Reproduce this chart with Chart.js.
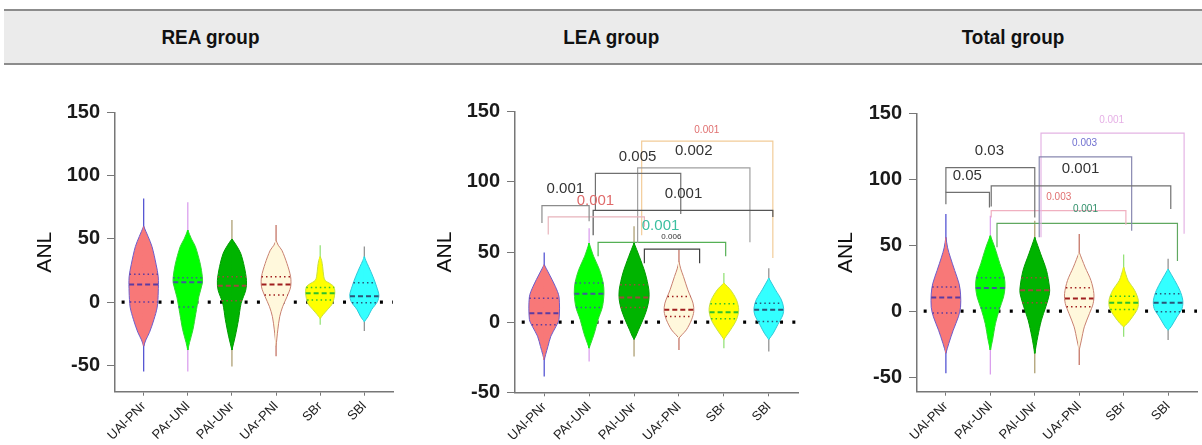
<!DOCTYPE html>
<html>
<head>
<meta charset="utf-8">
<script src="https://cdn.jsdelivr.net/npm/chart.js@4.4.0/dist/chart.umd.min.js"></script>
<style>
  body { margin: 0; background: #fff; width: 1202px; height: 445px; overflow: hidden; position: relative; }
  .band { position: absolute; left: 4px; right: 0; top: 9px; height: 52px; background: #ebebeb;
          border-top: 2px solid #8c8c8c; border-bottom: 2px solid #8c8c8c; }
  .band div { position: absolute; top: 0; width: 400px; height: 52px; text-align: center;
              font: bold 21px "Liberation Sans", Arial, sans-serif; line-height: 52px; color: #111; }
  .band span { display: inline-block; transform: scaleX(0.9); }
  .panel { position: absolute; top: 90px; height: 355px; }
</style>
</head>
<body>
<div class="band">
  <div style="left:6px"><span>REA group</span></div>
  <div style="left:407px"><span>LEA group</span></div>
  <div style="left:809px"><span>Total group</span></div>
</div>
<div class="panel" style="left:0;width:400px"><canvas id="rea" width="400" height="355"></canvas></div>
<div class="panel" style="left:400px;width:400px"><canvas id="lea" width="400" height="355"></canvas></div>
<div class="panel" style="left:800px;width:402px"><canvas id="tot" width="402" height="355"></canvas></div>

<script>
// categories and axis ticks
const categories = ['UAl-PNr', 'PAr-UNl', 'PAl-UNr', 'UAr-PNl', 'SBr', 'SBl'];
const yTicks = [-50, 0, 50, 100, 150];

// REA group: whisker range, quartiles, density profile [value, relative width]
const reaMin = [-55, -55, -51, -43, -18, -23];
const reaMax = [82, 79, 65, 61, 45, 44];
const reaQ1 = [0, -4, 1, 5.5, 1.6, -0.5];
const reaMedian = [14, 15.7, 13, 14, 6.9, 4.7];
const reaQ3 = [22, 19.3, 20, 20, 11.6, 15.3];
const reaDensity = [
  [[-35, 0], [-30, 0.15], [-24, 0.4], [-14, 0.7], [-4, 0.93], [8, 1], [20, 1], [30, 0.85], [44, 0.57], [52, 0.3], [60, 0]],
  [[-38, 0], [-32, 0.12], [-22, 0.35], [-9, 0.55], [4, 0.75], [15, 1], [20, 1], [30, 0.86], [44, 0.52], [50, 0.25], [57, 0]],
  [[-38, 0], [-27, 0.23], [-14, 0.45], [-1, 0.63], [9.5, 0.95], [17, 1], [28, 0.85], [38.6, 0.6], [45, 0.3], [50, 0]],
  [[-35, 0], [-22, 0.12], [-11.6, 0.25], [-3.7, 0.45], [4.2, 0.75], [12, 1], [20, 1], [30.5, 0.75], [41, 0.4], [45, 0.15], [49, 0]],
  [[-13, 0], [-10, 0.2], [-6, 0.5], [-1, 0.85], [6.8, 1], [12, 0.95], [14.5, 0.7], [17, 0.35], [20, 0.25], [28, 0.17], [33, 0.1], [36, 0]],
  [[-15.5, 0], [-11.6, 0.25], [-6, 0.5], [0.3, 0.9], [5.5, 1], [12, 0.85], [20, 0.6], [28, 0.3], [33, 0.1], [36, 0]]
];

// LEA group
const leaMin = [-38.8, -28, -24.5, -19.8, -18.6, -21];
const leaMax = [49.7, 67, 68.3, 51.6, 35, 38.5];
const leaQ1 = [-1.9, 10.5, 10.5, 4, 2.4, 0.5];
const leaMedian = [6.4, 20.2, 17.6, 8.8, 7.1, 8.8];
const leaQ3 = [17.1, 27.9, 26.7, 18.3, 13.1, 13.5];
const leaDensity = [
  [[-27, 0], [-23, 0.1], [-17.4, 0.25], [-10, 0.45], [-3, 0.8], [2, 1], [18, 1], [25.5, 0.75], [35, 0.3], [41, 0]],
  [[-18.6, 0], [-15, 0.12], [-8, 0.35], [1.7, 0.6], [11, 0.9], [20.7, 1], [27.9, 0.95], [37.4, 0.7], [47, 0.3], [56.4, 0]],
  [[-12.3, 0], [-10, 0.12], [-5.5, 0.3], [1.7, 0.6], [8.8, 0.85], [16, 1], [23, 1], [35, 0.75], [47, 0.35], [56.4, 0]],
  [[-11.4, 0], [-9, 0.2], [-5.5, 0.5], [1.7, 0.85], [7.6, 1], [13.5, 0.95], [23, 0.6], [32.6, 0.3], [38, 0.12], [43.3, 0]],
  [[-12.3, 0], [-10, 0.15], [-5.5, 0.45], [1.7, 0.85], [8.8, 1], [15.9, 0.85], [23, 0.45], [27.9, 0]],
  [[-12.3, 0], [-7.9, 0.3], [-1.9, 0.6], [5.2, 0.95], [10, 1], [15.9, 0.85], [23, 0.45], [31.4, 0]]
];
// comparison brackets: [from, to, top, left end, right end] and their p values
const leaBrackets = [
  [-0.05, 1.0, 83, 70.7, 72],
  [0.09, 2.23, 75, 62.4, 68],
  [1.09, 5.09, 79.7, 62, 75],
  [1.14, 3.04, 106, 80, 77],
  [2.08, 4.58, 110, 56.4, 56.9],
  [2.17, 5.09, 129, 62, 45.7],
  [1.2, 4.04, 56.9, 46.9, 47],
  [2.23, 3.46, 52, 42, 42]
];
const leaPValues = ['0.001', '0.001', '0.001', '0.005', '0.002', '0.001', '0.001', '0.006'];
const leaPAt = [[0.47, 95], [1.14, 86.6], [3.1, 91.6], [2.08, 118], [3.33, 122], [3.62, 137], [2.59, 68.8], [2.83, 61]];

// Total group
const totMin = [-47, -48, -47, -40.7, -19.4, -21.9];
const totMax = [73.6, 72.4, 68.6, 58.6, 43, 39.7];
const totQ1 = [-1.3, 2.5, 6.5, 3.3, 1.3, -0.5];
const totMedian = [10.3, 17.6, 15.9, 9.6, 6.5, 6.5];
const totQ3 = [18.4, 25.4, 25.4, 17.8, 11.3, 13.3];
const totDensity = [
  [[-31.9, 0], [-24.4, 0.2], [-14.4, 0.5], [-4.3, 0.85], [3, 1], [13, 1], [20.8, 0.9], [30.9, 0.6], [41, 0.3], [48, 0.12], [56, 0]],
  [[-29.4, 0], [-21.9, 0.15], [-9.3, 0.35], [0.8, 0.6], [10.8, 0.9], [18.4, 1], [25.9, 0.95], [36, 0.65], [48.5, 0.3], [57.3, 0]],
  [[-32, 0], [-19.4, 0.2], [-6.8, 0.45], [3.3, 0.75], [13.3, 1], [18.4, 1], [30.9, 0.8], [43.5, 0.4], [56, 0]],
  [[-29.4, 0], [-21.9, 0.15], [-11.8, 0.35], [-1.7, 0.7], [5.8, 0.95], [13.3, 1], [23.3, 0.8], [33.4, 0.4], [44.7, 0]],
  [[-11.8, 0], [-9.3, 0.25], [-4.3, 0.6], [2, 0.95], [8.3, 1], [15.8, 0.75], [23.3, 0.3], [28, 0.15], [33.4, 0]],
  [[-14.4, 0], [-11.8, 0.2], [-4.3, 0.6], [2, 0.95], [8.3, 1], [15.8, 0.8], [23.3, 0.45], [32, 0]]
];
const totBrackets = [
  [0, 0.98, 90, 81, 78.7],
  [0, 2.0, 108.8, 90, 71],
  [1.02, 5.06, 95, 79.4, 77.4],
  [2.1, 4.18, 117, 56, 61],
  [2.14, 5.36, 135, 56, 58.8],
  [1.02, 4.05, 76.2, 71, 65.6],
  [1.15, 5.21, 66.6, 48.5, 38]
];
const totPValues = ['0.05', '0.03', '0.001', '0.003', '0.001', '0.003', '0.001'];
const totPAt = [[0.48, 102.6], [0.98, 121.4], [3.03, 107.6], [3.12, 127], [3.73, 144.8], [2.54, 86], [3.14, 77.5]];

// styles
const fillColors = ['#f87878', '#00ff00', '#00b400', '#fff8dc', '#ffff00', '#33ffff'];
const edgeColors = ['#6c5ccc', '#30d830', '#009a00', '#c88070', '#c8e040', '#30c8d8'];
const whiskerColors = ['#4848d0', '#d898ec', '#a89868', '#c06a5a', '#8ee070', '#8a8a8a'];
const quartColors = ['#5b3aa0', '#405a9a', '#9b4b3a', '#a01e1e', '#2ec02e', '#2b5578'];
const leaBracketColors = ['#8c8c8c', '#e8b4bc', '#555555', '#707070', '#a0a0a0', '#f2cc98', '#55b055', '#404040'];
const leaTextColors = ['#333', '#e06a6a', '#333', '#333', '#333', '#e07070', '#3cbfa0', '#333'];
const leaTextSizes = [15, 15, 15, 15, 15, 10, 15, 8];
const totBracketColors = ['#707070', '#707070', '#707070', '#8888b0', '#e4b4e4', '#f0b0c0', '#60a860'];
const totTextColors = ['#333', '#333', '#333', '#7070d0', '#e6b0e6', '#e07070', '#30906a'];
const totTextSizes = [15, 15, 15, 10, 10, 10, 10];

const HALF = 0.33;
const FONT = '"Liberation Sans", Arial, sans-serif';

function densityAt(shape, v) {
  for (let k = 1; k < shape.length; k++) {
    const [v0, d0] = shape[k - 1], [v1, d1] = shape[k];
    if (v >= v0 && v <= v1) return d0 + (d1 - d0) * (v - v0) / (v1 - v0);
  }
  return 0;
}

function buildDatasets(p) {
  const ds = [];
  ds.push({ data: [{ x: -0.5, y: 0 }, { x: 5.65, y: 0 }], borderColor: '#000', borderWidth: 3.2, borderDash: [3, 9.3], order: 9 });
  categories.forEach((c, i) => {
    ds.push({ data: [{ x: i, y: p.min[i] }, { x: i, y: p.max[i] }], borderColor: whiskerColors[i], borderWidth: 1.2, order: 8 });
    const shape = p.density[i];
    ds.push({ data: shape.map(([v, d]) => ({ x: i + d * HALF, y: v })), fill: { value: i - 0.02 }, tension: 0.3,
              backgroundColor: fillColors[i], borderColor: edgeColors[i], borderWidth: 1, order: 5 });
    ds.push({ data: shape.map(([v, d]) => ({ x: i - d * HALF, y: v })), fill: { value: i + 0.02 }, tension: 0.3,
              backgroundColor: fillColors[i], borderColor: edgeColors[i], borderWidth: 1, order: 5 });
    [[p.q1[i], false], [p.median[i], true], [p.q3[i], false]].forEach(([q, isMedian]) => {
      const w = densityAt(shape, q) * HALF;
      ds.push({ data: [{ x: i - w, y: q }, { x: i + w, y: q }], borderColor: quartColors[i],
                borderWidth: isMedian ? 2 : 1.5, borderDash: isMedian ? [5, 3] : [1.5, 3], order: 2 });
    });
  });
  (p.brackets || []).forEach((b, k) => {
    ds.push({ data: [{ x: b[0], y: b[3] }, { x: b[0], y: b[2] }, { x: b[1], y: b[2] }, { x: b[1], y: b[4] }],
              borderColor: p.bracketColors[k], borderWidth: 1.2, order: 0 });
  });
  return ds;
}

function makePanel(id, p) {
  const pLabels = {
    id: 'pLabels',
    afterDatasetsDraw(chart) {
      if (!p.pValues) return;
      const { ctx, scales: { x, y } } = chart;
      ctx.save();
      ctx.textAlign = 'center';
      ctx.textBaseline = 'middle';
      p.pValues.forEach((t, k) => {
        ctx.font = p.textSizes[k] + 'px ' + FONT;
        ctx.fillStyle = p.textColors[k];
        ctx.fillText(t, x.getPixelForValue(p.pAt[k][0]), y.getPixelForValue(p.pAt[k][1]));
      });
      ctx.restore();
    }
  };
  new Chart(document.getElementById(id), {
    type: 'line',
    data: { datasets: buildDatasets(p) },
    plugins: [pLabels],
    options: {
      indexAxis: 'y',
      responsive: false,
      animation: false,
      devicePixelRatio: 1,
      layout: { padding: { left: 0, right: p.padRight, top: p.padTop, bottom: 0 } },
      elements: { point: { radius: 0, hoverRadius: 0 }, line: { tension: 0 } },
      plugins: { legend: { display: false }, tooltip: { enabled: false } },
      scales: {
        x: {
          type: 'linear', min: -0.65, max: 5.65,
          afterBuildTicks: s => { s.ticks = categories.map((c, i) => ({ value: i })); },
          afterFit: s => { s.height = p.xHeight; },
          grid: { drawOnChartArea: false, drawTicks: true, tickLength: 4, color: '#777' },
          border: { color: '#777', width: 1.5 },
          ticks: { callback: v => categories[v], autoSkip: false, minRotation: 45, maxRotation: 45, padding: 3,
                   color: '#222', font: { size: 13, family: FONT } }
        },
        y: {
          type: 'linear', min: p.yMin, max: 150,
          afterBuildTicks: s => { s.ticks = yTicks.map(v => ({ value: v })); },
          afterFit: s => { s.width = p.yWidth; },
          grid: { drawOnChartArea: false, drawTicks: true, tickLength: 8, color: '#777' },
          border: { color: '#777', width: 1.5 },
          ticks: { padding: 7, color: '#1a1a1a', font: { size: 20, weight: 'bold', family: FONT } },
          title: { display: true, text: 'ANL', color: '#111', font: { size: 21, family: FONT }, padding: { top: p.titlePad, bottom: 0 } }
        }
      }
    }
  });
}

makePanel('rea', { min: reaMin, max: reaMax, q1: reaQ1, median: reaMedian, q3: reaQ3, density: reaDensity,
  yMin: -71, yWidth: 115, xHeight: 53.3, padTop: 22.7, padRight: 7, titlePad: 32.4 });
makePanel('lea', { min: leaMin, max: leaMax, q1: leaQ1, median: leaMedian, q3: leaQ3, density: leaDensity,
  brackets: leaBrackets, bracketColors: leaBracketColors, pValues: leaPValues, pAt: leaPAt,
  textColors: leaTextColors, textSizes: leaTextSizes,
  yMin: -50, yWidth: 115, xHeight: 52.7, padTop: 21.7, padRight: 2, titlePad: 32.4 });
makePanel('tot', { min: totMin, max: totMax, q1: totQ1, median: totMedian, q3: totQ3, density: totDensity,
  brackets: totBrackets, bracketColors: totBracketColors, pValues: totPValues, pAt: totPAt,
  textColors: totTextColors, textSizes: totTextSizes,
  yMin: -61, yWidth: 117, xHeight: 53.3, padTop: 23.3, padRight: 5, titlePad: 34 });
</script>
</body>
</html>
